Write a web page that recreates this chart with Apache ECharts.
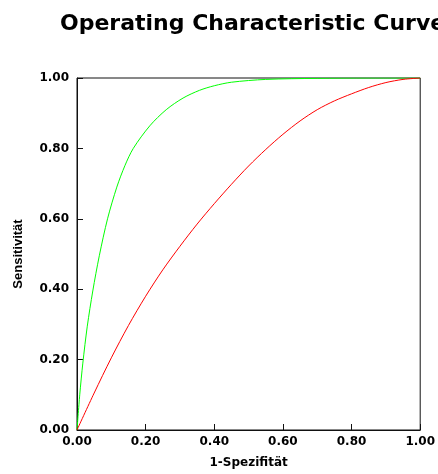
<!DOCTYPE html>
<html>
<head>
<meta charset="utf-8">
<script src="https://cdn.jsdelivr.net/npm/echarts@6/dist/echarts.min.js"></script>
<style>
html,body{margin:0;padding:0;background:#fff;}
#chart{width:438px;height:474px;}
</style>
</head>
<body>
<div id="chart"></div>
<script>
var titleText = 'Operating Characteristic Curve';
var xAxisName = '1-Spezifität';
var yAxisName = 'Sensitivität';

var greenX = [0, 0.008, 0.017, 0.03, 0.046, 0.065, 0.089, 0.116, 0.14, 0.164, 0.212, 0.26, 0.309, 0.357, 0.40, 0.45, 0.55, 0.70, 0.85, 1];
var greenY = [0, 0.10, 0.19, 0.295, 0.395, 0.495, 0.60, 0.69, 0.752, 0.80, 0.864, 0.91, 0.943, 0.965, 0.978, 0.988, 0.996, 0.999, 1, 1];

var redX = [0, 0.05, 0.10, 0.15, 0.20, 0.25, 0.30, 0.35, 0.40, 0.45, 0.50, 0.55, 0.60, 0.65, 0.70, 0.75, 0.80, 0.85, 0.90, 0.95, 1];
var redY = [0, 0.105, 0.205, 0.297, 0.38, 0.455, 0.522, 0.585, 0.643, 0.698, 0.75, 0.797, 0.84, 0.878, 0.91, 0.935, 0.955, 0.973, 0.987, 0.996, 1];

function pairs(xs, ys) { return xs.map(function (x, i) { return [x, ys[i]]; }); }

var chart = echarts.init(document.getElementById('chart'), null, {renderer: 'canvas'});
var labelFont = {fontFamily: 'DejaVu Sans', fontWeight: 'bold', fontSize: 12, color: '#000'};
chart.setOption({
  animation: false,
  backgroundColor: '#fff',
  title: {
    text: titleText,
    left: 55,
    top: 8,
    textStyle: {fontFamily: 'DejaVu Sans', fontWeight: 'bold', fontSize: 22, color: '#000'}
  },
  grid: {left: 77, right: 16, top: 78, bottom: 41, show: true, borderColor: '#111', borderWidth: 1, backgroundColor: 'transparent'},
  xAxis: {
    type: 'value', min: 0, max: 1, interval: 0.2,
    name: xAxisName, nameLocation: 'middle', nameGap: 27,
    nameTextStyle: labelFont,
    axisLine: {show: true, lineStyle: {color: '#111', width: 1}},
    axisTick: {show: true, inside: true, length: 6, lineStyle: {color: '#111'}},
    axisLabel: Object.assign({margin: 6, formatter: function (v) { return v.toFixed(2); }}, labelFont),
    splitLine: {show: false}
  },
  yAxis: {
    type: 'value', min: 0, max: 1, interval: 0.2,
    name: yAxisName, nameLocation: 'middle', nameGap: 52,
    nameTextStyle: {fontFamily: 'Liberation Sans', fontWeight: 'bold', fontSize: 13, color: '#000'},
    axisLine: {show: true, lineStyle: {color: '#111', width: 1}},
    axisTick: {show: true, inside: true, length: 6, lineStyle: {color: '#111'}},
    axisLabel: Object.assign({margin: 8, padding: [4, 0, 0, 0], formatter: function (v) { return v.toFixed(2); }}, labelFont),
    splitLine: {show: false}
  },
  series: [
    {type: 'line', data: pairs(greenX, greenY), smooth: 0.3, showSymbol: false,
     lineStyle: {color: '#00ff00', width: 1}, itemStyle: {color: '#00ff00'}},
    {type: 'line', data: pairs(redX, redY), smooth: 0.3, showSymbol: false,
     lineStyle: {color: '#ff0000', width: 1}, itemStyle: {color: '#ff0000'}}
  ]
});
</script>
</body>
</html>
